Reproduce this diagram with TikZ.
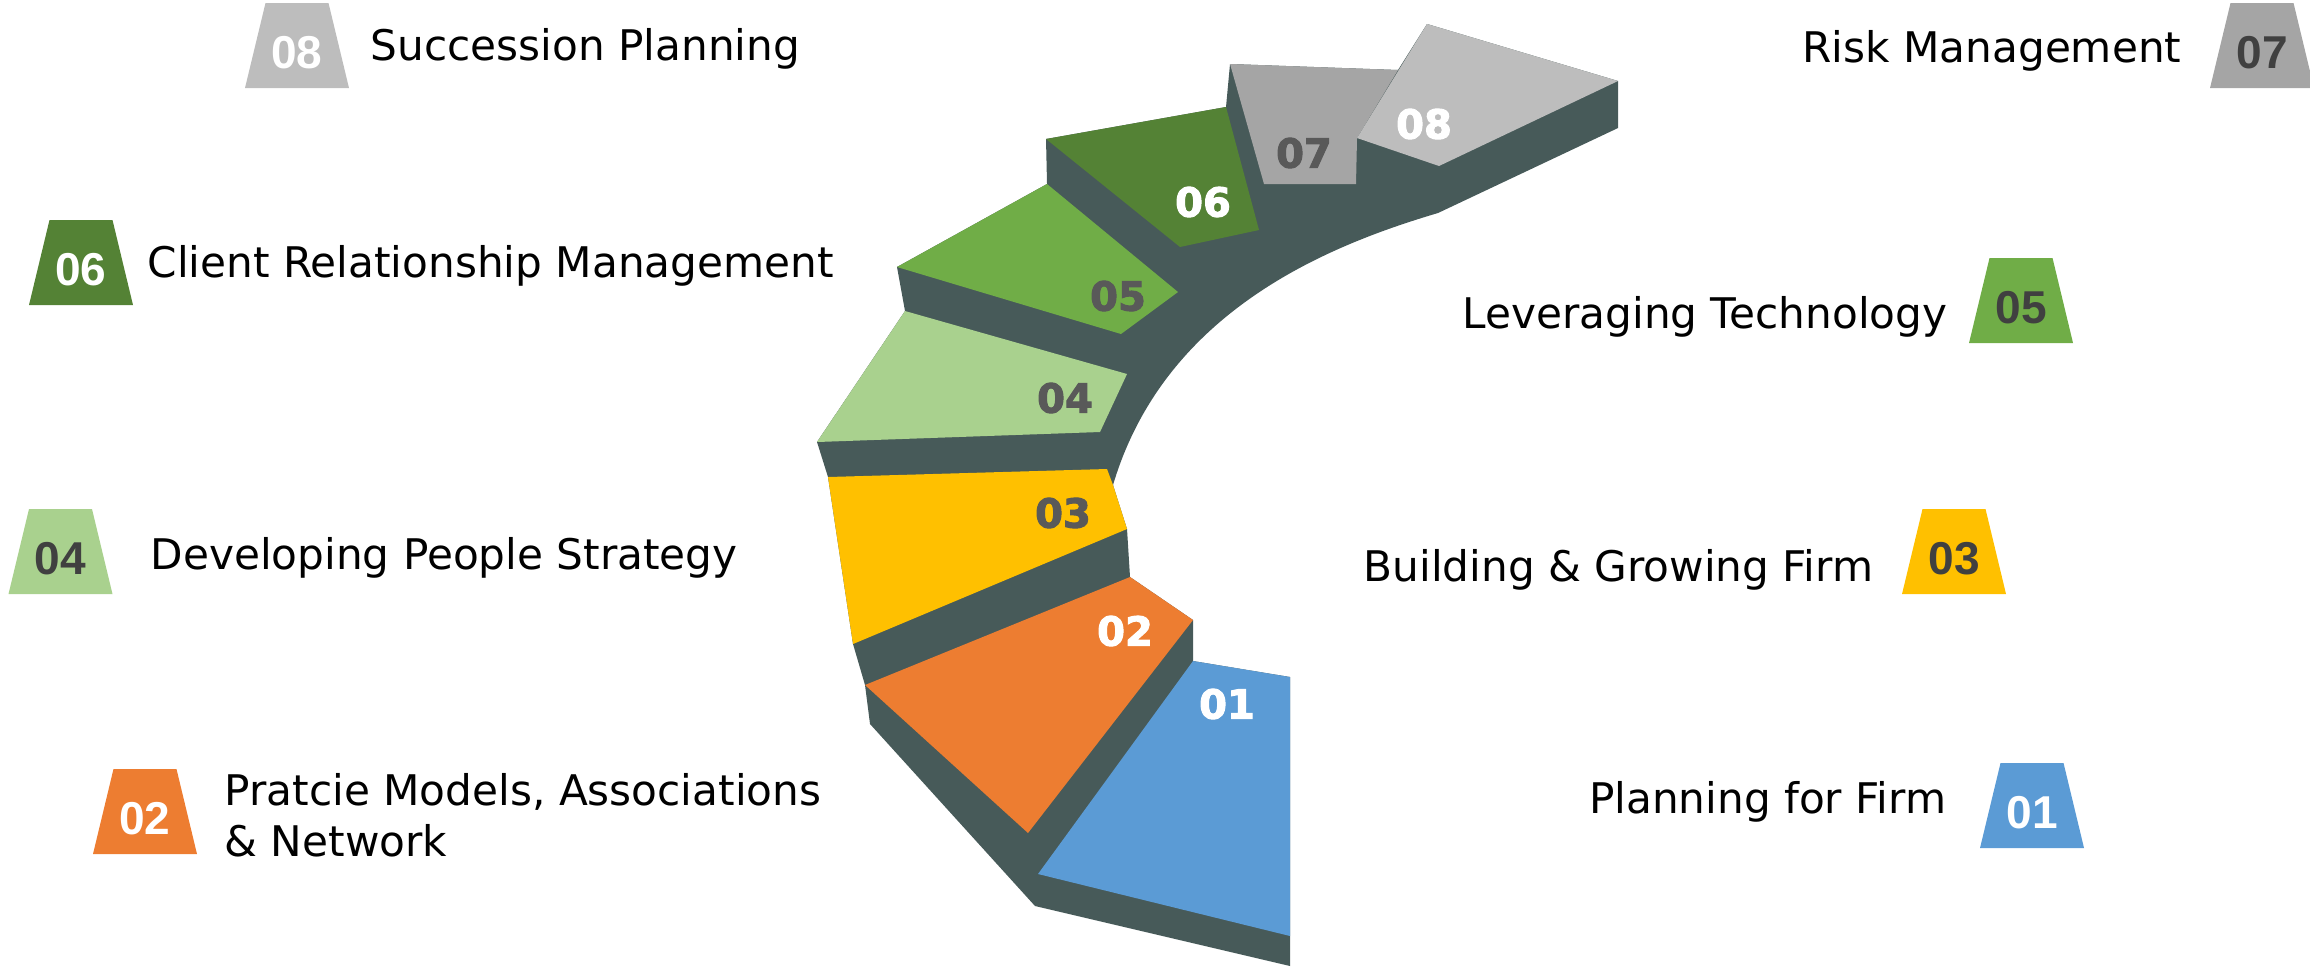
\documentclass[tikz,border=0pt]{standalone}
\usepackage{fontspec}
\setmainfont{DejaVu Sans}
\newfontfamily\badgefont{Liberation Sans}
\newfontfamily\stepfont{DejaVu Sans}[BoldFeatures={FakeBold=2.5}]
\definecolor{side}{HTML}{475A59}
\definecolor{st01}{HTML}{5B9BD5}
\definecolor{st02}{HTML}{ED7D31}
\definecolor{st03}{HTML}{FFC000}
\definecolor{st04}{HTML}{A9D18E}
\definecolor{st05}{HTML}{70AD47}
\definecolor{st06}{HTML}{548235}
\definecolor{st07}{HTML}{A5A5A5}
\definecolor{st08}{HTML}{BDBDBD}
\definecolor{numdark}{HTML}{595959}
\definecolor{tagdark}{HTML}{404040}

\begin{document}
\begin{tikzpicture}[x=0.01cm, y=-0.01cm,
    stepnum/.style={font=\stepfont\bfseries\fontsize{11.4}{12}\selectfont, inner sep=0},
    tagnum/.style={font=\badgefont\bfseries\fontsize{13.1}{14}\selectfont, inner sep=0},
    caption/.style={font=\fontsize{12}{14.5}\selectfont, inner sep=0, align=left}]
      \useasboundingbox (0, 0) rectangle (2310, 966);
      % dark body of the stairs
      \fill[side] (1226, 107) -- (1230, 64) -- (1398, 70) -- (1427, 24) -- (1618, 81) -- (1618, 128) -- (1438, 213)
        .. controls (1330, 245) and (1165, 310) .. (1113, 485)
        -- (1127, 529) -- (1130, 577) -- (1193, 620) -- (1193, 661) -- (1290, 677) -- (1290, 966) -- (1035, 906)
        -- (870, 724) -- (865, 685) -- (853, 644) -- (828, 477) -- (817, 442) -- (905, 311) -- (897, 267)
        -- (1047, 184) -- (1046, 139) -- cycle;
      % treads, bottom to top
      \fill[st01] (1193, 661) -- (1290, 677) -- (1290, 936) -- (1038, 874) -- cycle;
      \fill[st02] (865, 685) -- (1130, 577) -- (1193, 620) -- (1028, 833) -- cycle;
      \fill[st03] (828, 477) -- (1107, 469) -- (1113, 485) -- (1127, 529) -- (853, 644) -- cycle;
      \fill[st04] (817, 442) -- (905, 311) -- (1127, 374) -- (1100, 432) -- cycle;
      \fill[st05] (897, 267) -- (1047, 184) -- (1178, 292) -- (1121, 334) -- cycle;
      \fill[st06] (1046, 139) -- (1226, 107) -- (1259, 230) -- (1180, 247) -- cycle;
      \fill[st07] (1230, 64) -- (1398, 70) -- (1357, 138) -- (1356, 184) -- (1264, 184) -- cycle;
      \fill[st08] (1427, 24) -- (1618, 81) -- (1439, 166) -- (1357, 138) -- cycle;
      \node[stepnum, white] (s01) at (1227, 704) {01};
      \node[stepnum, white] (s02) at (1125, 631) {02};
      \node[stepnum, numdark] (s03) at (1063, 513) {03};
      \node[stepnum, numdark] (s04) at (1065, 398) {04};
      \node[stepnum, numdark] (s05) at (1118, 296) {05};
      \node[stepnum, white] (s06) at (1203, 202) {06};
      \node[stepnum, numdark] (s07) at (1304, 153) {07};
      \node[stepnum, white] (s08) at (1424, 124) {08};
      % number tags beside the captions
      \foreach \n/\cx/\ty/\c/\tc in {08/297/3/st08/white, 06/81/220/st06/white, 04/60.5/509/st04/tagdark,
          02/145/769/st02/white, 07/2262/3/st07/tagdark, 05/2021/258/st05/tagdark,
          03/1954/509/st03/tagdark, 01/2032/763/st01/white} {
        \fill[\c] (\cx-31.5, \ty) -- (\cx+31.5, \ty) -- (\cx+52, \ty+85) -- (\cx-52, \ty+85) -- cycle;
        \node[tagnum, text=\tc] (b\n) at (\cx, \ty+50) {\n};
      }
      \node[caption, anchor=base west] (t08) at (370, 60) {Succession Planning};
      \node[caption, anchor=base west] (t06) at (147, 277) {Client Relationship Management};
      \node[caption, anchor=base west] (t04) at (150, 569) {Developing People Strategy};
      \node[caption, anchor=base west] (t02) at (224, 856) {Pratcie Models, Associations\\\& Network};
      \node[caption, anchor=base east] (t07) at (2182, 62) {Risk Management};
      \node[caption, anchor=base east] (t05) at (1948, 328) {Leveraging Technology};
      \node[caption, anchor=base east] (t03) at (1874, 581) {Building \& Growing Firm};
      \node[caption, anchor=base east] (t01) at (1947, 813) {Planning for Firm};
    \end{tikzpicture}
\end{document}
